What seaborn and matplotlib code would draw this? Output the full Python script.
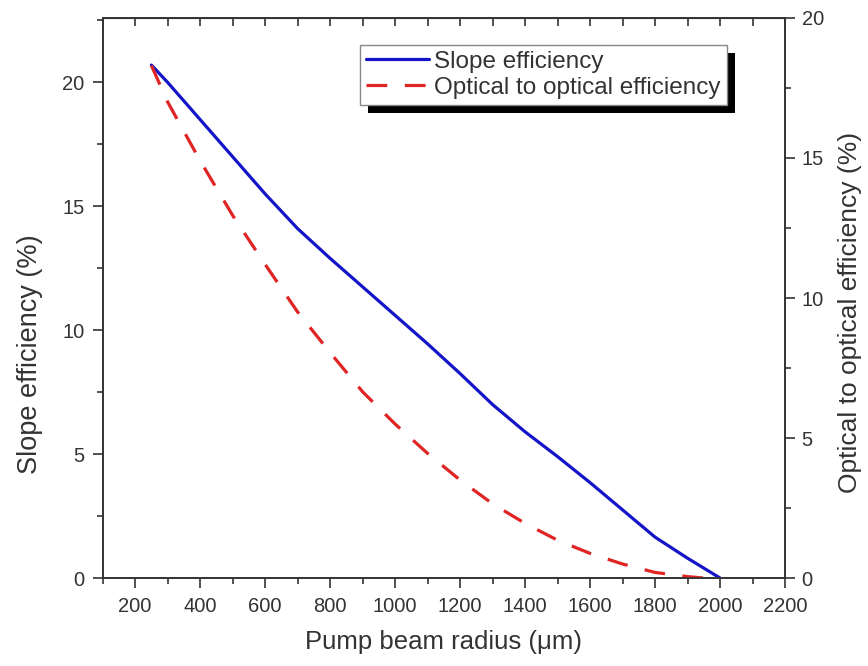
import numpy as np
import pandas as pd
import matplotlib
matplotlib.use("Agg")
import matplotlib.pyplot as plt
import seaborn as sns
from matplotlib.ticker import MultipleLocator
from matplotlib.patches import Rectangle

radius_slope = [250, 300, 400, 500, 600, 700, 800, 900, 1000, 1100, 1200,
                1300, 1400, 1500, 1600, 1700, 1800, 1900, 2000]
slope_eff = [20.7, 20.0, 18.5, 17.0, 15.5, 14.1, 12.9, 11.75, 10.6, 9.45, 8.25,
             7.0, 5.9, 4.9, 3.85, 2.75, 1.65, 0.8, 0.0]
radius_opt = [250, 300, 400, 500, 600, 700, 800, 900, 1000, 1100, 1200,
              1300, 1400, 1500, 1600, 1700, 1800, 1900, 1950]
opt_eff = [18.3, 17.0, 14.9, 12.95, 11.2, 9.5, 8.05, 6.65, 5.5, 4.45, 3.5,
           2.65, 1.95, 1.35, 0.88, 0.5, 0.2, 0.05, 0.0]

df_slope = pd.DataFrame({"radius": radius_slope, "eff": slope_eff})
df_opt = pd.DataFrame({"radius": radius_opt, "eff": opt_eff})

sns.set_style("ticks")
plt.rcParams['font.family'] = ['Liberation Sans', 'DejaVu Sans']
txt = '#333333'
plt.rcParams['text.color'] = txt
plt.rcParams['axes.labelcolor'] = txt
plt.rcParams['xtick.color'] = txt
plt.rcParams['ytick.color'] = txt
plt.rcParams['axes.edgecolor'] = txt

fig = plt.figure(figsize=(8.68, 6.66), dpi=100)
ax = fig.add_axes([0.1183, 0.1321, 0.7861, 0.8409])
ax2 = ax.twinx()

sns.lineplot(data=df_slope, x="radius", y="eff", ax=ax, color="#1414c8",
             linewidth=2.3, label="Slope efficiency", legend=False)
sns.lineplot(data=df_opt, x="radius", y="eff", ax=ax2, color="#e02424",
             linewidth=2.3, label="Optical to optical efficiency", legend=False)
ax2.lines[0].set_dashes([6.5, 5.5])

ax.set_xlim(100, 2200)
ax.set_ylim(0, 22.6)
ax2.set_ylim(0, 20)

ax.xaxis.set_major_locator(MultipleLocator(200))
ax.xaxis.set_minor_locator(MultipleLocator(100))
ax.yaxis.set_major_locator(MultipleLocator(5))
ax.yaxis.set_minor_locator(MultipleLocator(2.5))
ax2.yaxis.set_major_locator(MultipleLocator(5))
ax2.yaxis.set_minor_locator(MultipleLocator(2.5))

ax.tick_params(axis='both', which='major', direction='out', length=7,
               width=1.2, labelsize=14.5)
ax.tick_params(axis='x', which='major', pad=7)
ax.tick_params(axis='y', which='major', pad=6)
ax.tick_params(axis='both', which='minor', direction='out', length=4, width=1.2)
ax2.tick_params(axis='y', which='major', direction='out', length=7,
                width=1.2, labelsize=14.5, pad=5)
ax2.tick_params(axis='y', which='minor', direction='out', length=4, width=1.2)

top = ax.secondary_xaxis('top')
top.xaxis.set_major_locator(MultipleLocator(200))
top.xaxis.set_minor_locator(MultipleLocator(100))
top.tick_params(which='both', direction='in', length=6, width=1.2, labeltop=False)

for a in (ax, ax2):
    for s in a.spines.values():
        s.set_linewidth(1.2)

ax.set_xlabel("Pump beam radius (\u03bcm)", fontsize=18.5, labelpad=10)
ax.set_ylabel("Slope efficiency (%)", fontsize=19.5)
ax2.set_ylabel("Optical to optical efficiency (%)", fontsize=19)
ax.yaxis.set_label_coords(-0.088, 0.40)
ax2.yaxis.set_label_coords(1.077, 0.475)

h1, l1 = ax.get_legend_handles_labels()
h2, l2 = ax2.get_legend_handles_labels()
leg = ax2.legend(h1 + h2, l1 + l2, loc='upper left', bbox_to_anchor=(0.377, 0.952),
                 fontsize=17.5, frameon=True, fancybox=False, edgecolor='#888888',
                 framealpha=1, borderpad=0.25, handlelength=2.6,
                 handletextpad=0.2, labelspacing=0.15, borderaxespad=0)
leg.get_frame().set_linewidth(1.0)

# black drop shadow behind the legend box
fig.canvas.draw()
bb = leg.get_window_extent().transformed(ax2.transAxes.inverted())
dx = 8 / (ax2.bbox.width)
dy = 8 / (ax2.bbox.height)
ax2.add_patch(Rectangle((bb.x0 + dx, bb.y0 - dy), bb.width, bb.height,
                        transform=ax2.transAxes, facecolor='black',
                        edgecolor='none', zorder=4.9, clip_on=False))

fig.savefig("out.png", dpi=100)
